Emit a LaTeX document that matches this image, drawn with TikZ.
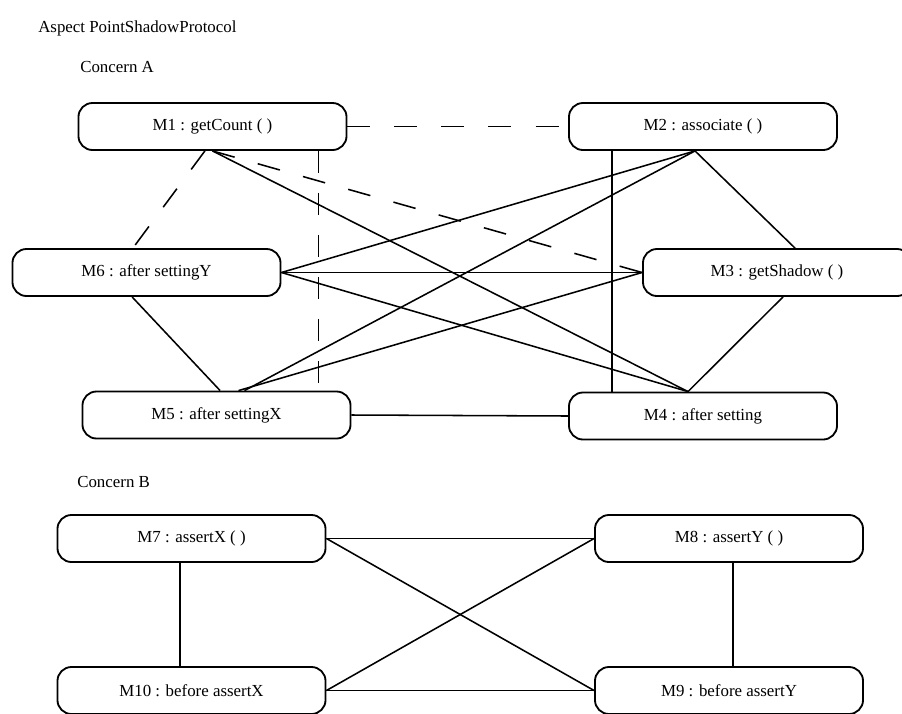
\documentclass[tikz,border=0pt]{standalone}
\usepackage{fontspec}
\setmainfont{Liberation Serif}
\usetikzlibrary{calc}
\tikzset{
  metbox/.style={draw, rounded corners=0.35cm, line width=1.3pt,
    minimum width=6.7cm, minimum height=1.175cm, inner sep=2pt,
    font=\fontsize{12}{14}\selectfont},
  conn/.style={line width=1.1pt},
  dashconn/.style={line width=1.1pt, dash pattern=on 0.575cm off 0.6cm},
  vdashconn/.style={line width=0.8pt, dash pattern=on 0.55cm off 0.5cm},
  lbl/.style={anchor=west, inner sep=0pt, font=\fontsize{12}{14}\selectfont},
}
\begin{document}
\begin{tikzpicture}[x=0.025cm, y=-0.025cm]
    \useasboundingbox (0,0) rectangle (902,713);
    \clip (0,0) rectangle (902,713);
    \node[lbl] (titulo) at (38,28) {Aspect PointShadowProtocol};
    \node[lbl] (concA) at (80,67) {Concern A};
    \node[lbl] (concB) at (77,482) {Concern B};
    % Concern A
    \node[metbox] (m1) at (212.5,126.5) {M1 : getCount ( )};
    \node[metbox] (m2) at (703,126.5) {M2 : associate ( )};
    \node[metbox] (m3) at (777,272.5) {M3 : getShadow ( )};
    \node[metbox] (m4) at (703,416) {M4 : after setting};
    \node[metbox] (m5) at (216.5,415) {M5 : after settingX};
    \node[metbox] (m6) at (146.5,272.5) {M6 : after settingY};
    \coordinate (m1v) at ([xshift=2.64cm]m1.south);
    \coordinate (m2p) at ([xshift=-0.2cm]m2.south);
    \coordinate (m2v) at ([xshift=-2.275cm]m2.south);
    \coordinate (m3t) at ([xshift=0.45cm]m3.north);
    \coordinate (m3b) at ([xshift=0.15cm]m3.south);
    \coordinate (m4p) at ([xshift=-0.375cm]m4.north);
    \coordinate (m5a) at ([xshift=0.09cm]m5.north);
    \coordinate (m5b) at ([xshift=0.55cm]m5.north);
    \coordinate (m5c) at ([xshift=0.7cm]m5.north);
    \coordinate (m6t) at ([xshift=-0.34cm]m6.north);
    \coordinate (m6b) at ([xshift=-0.36cm]m6.south);
    \draw[dashconn] (m1.east) -- (m2.west);
    \draw[dashconn] ([xshift=-0.19cm]m1.south) -- (m6t);
    \draw[dashconn] (m1.south) -- (m3.west);
    \draw[vdashconn] (m1v) -- (m1v |- m5.north);
    \draw[conn] (m1.south) -- (m4p);
    \draw[conn] (m2v) -- (m2v |- m4.north);
    \draw[conn] (m2p) -- (m3t);
    \draw[conn] (m6.east) -- (m2p);
    \draw[conn] (m6.east) -- (m3.west);
    \draw[conn] (m6.east) -- (m4p);
    \draw[conn] (m6b) -- (m5a);
    \draw[conn] (m5b) -- (m3.west);
    \draw[conn] (m5c) -- (m2p);
    \draw[conn] (m3b) -- (m4p);
    \draw[conn] (m5.east) -- (m4.west);
    % Concern B
    \node[metbox] (m7) at (191.5,538.5) {M7 : assertX ( )};
    \node[metbox] (m8) at (729,538.5) {M8 : assertY ( )};
    \node[metbox] (m9) at (729,690.5) {M9 : before assertY};
    \node[metbox] (m10) at (191.5,690.5) {M10 : before assertX};
    \coordinate (m7v) at ([xshift=-0.29cm]m7.south);
    \coordinate (m8v) at ([xshift=0.1cm]m8.south);
    \draw[conn] (m7v) -- (m7v |- m10.north);
    \draw[conn] (m8v) -- (m8v |- m9.north);
    \draw[conn] (m7.east) -- (m8.west);
    \draw[conn] (m7.east) -- (m9.west);
    \draw[conn] (m10.east) -- (m8.west);
    \draw[conn] (m10.east) -- (m9.west);
\end{tikzpicture}
\end{document}
